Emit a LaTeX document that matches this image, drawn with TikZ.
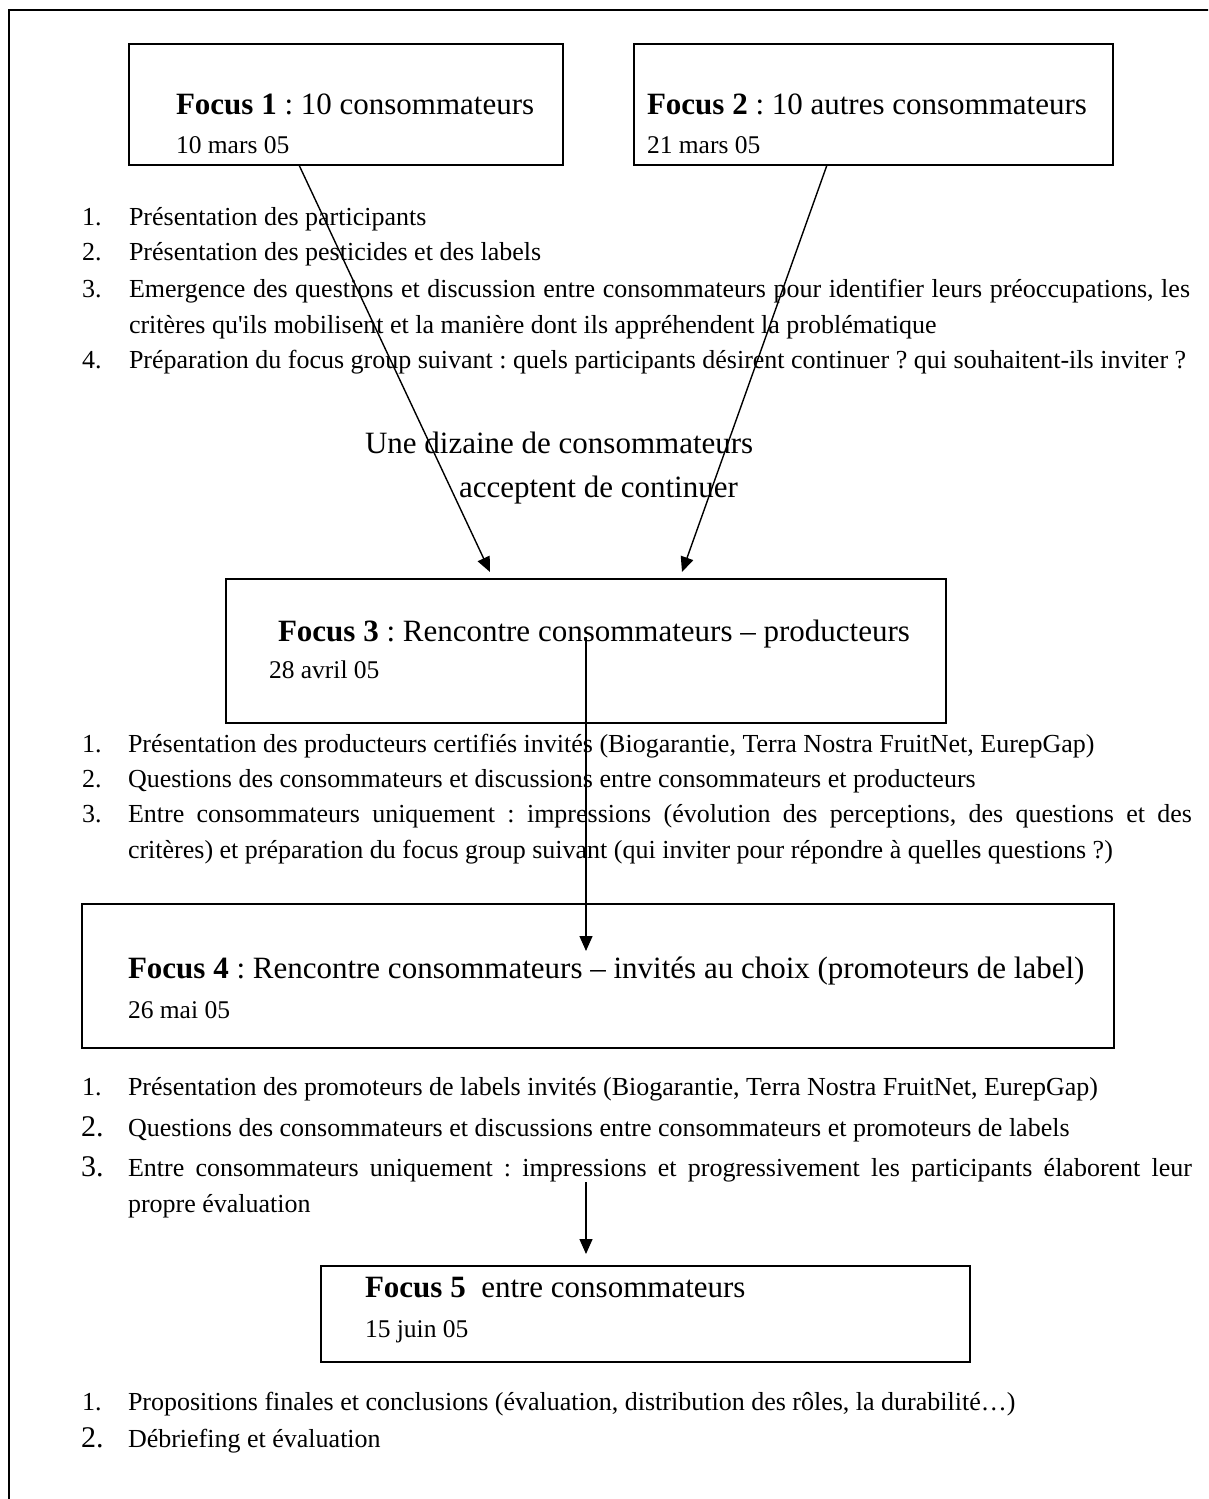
\documentclass[tikz,border=0pt]{standalone}
\usepackage{fontspec}
\setmainfont{Liberation Serif}
\usetikzlibrary{arrows.meta}
\frenchspacing
\begin{document}
\begin{tikzpicture}[x=1pt,y=-1pt,
  box/.style={draw, line width=1.6pt, inner sep=0pt, outer sep=0pt},
  ttl/.style={anchor=base west, inner sep=0pt, outer sep=0pt, font=\fontsize{31}{36}\selectfont\frenchspacing},
  dte/.style={anchor=base west, inner sep=0pt, outer sep=0pt, font=\fontsize{25.5}{30}\selectfont\frenchspacing},
  txt/.style={anchor=base west, inner sep=0pt, outer sep=0pt, font=\fontsize{26}{30}\selectfont\frenchspacing},
  bignum/.style={anchor=base west, inner sep=0pt, outer sep=0pt, font=\fontsize{30}{34}\selectfont},
  conn/.style={line width=1.4pt, -{Triangle[length=15pt,width=13pt]}}]
\useasboundingbox (0,0) rectangle (1208,1499);
\clip (0,0) rectangle (1208,1499);
\draw[line width=2pt] (9,10) rectangle (1240,1530);

% boxes
\node[box, minimum width=434pt, minimum height=121pt] (f1) at (346,104.5) {};
\node[box, minimum width=479pt, minimum height=121pt] (f2) at (873.5,104.5) {};
\node[box, minimum width=720pt, minimum height=144pt] (f3) at (586,651) {};
\node[box, minimum width=1032pt, minimum height=144pt] (f4) at (598,976) {};
\node[box, minimum width=649pt, minimum height=96pt] (f5) at (645.5,1314) {};

% box texts
\node[ttl] (f1t) at (176,114) {\textbf{Focus 1} : 10 consommateurs};
\node[dte] (f1d) at (176,153) {10 mars 05};
\node[ttl] (f2t) at (647,114) {\textbf{Focus 2} : 10 autres consommateurs};
\node[dte] (f2d) at (647,153) {21 mars 05};
\node[ttl] (f3t) at (278,641) {\textbf{Focus 3} : Rencontre consommateurs – producteurs};
\node[dte] (f3d) at (269,678) {28 avril 05};
\node[ttl] (f4t) at (128,978) {\textbf{Focus 4} : Rencontre consommateurs – invités au choix (promoteurs de label)};
\node[dte] (f4d) at (128,1018) {26 mai 05};
\node[ttl] (f5t) at (365,1297) {\textbf{Focus 5}\ \ entre consommateurs};
\node[dte] (f5d) at (365,1337) {15 juin 05};

% list after focus 1/2
\node[txt] (a1n) at (82,225) {1.};
\node[txt] (a1) at (129,225) {Présentation des participants};
\node[txt] (a2n) at (82,260) {2.};
\node[txt] (a2) at (129,260) {Présentation des pesticides et des labels};
\node[txt] (a3n) at (82,297) {3.};
\node[txt] (a3) at (129,297) {\makebox[1061pt][s]{Emergence des questions et discussion entre consommateurs pour identifier leurs préoccupations, les}};
\node[txt] (a3b) at (129,333) {critères qu\textquotesingle ils mobilisent et la manière dont ils appréhendent la problématique};
\node[txt] (a4n) at (82,368) {4.};
\node[txt] (a4) at (129,368) {Préparation du focus group suivant : quels participants désirent continuer ? qui souhaitent-ils inviter ?};

\node[ttl] (u1) at (365,453) {Une dizaine de consommateurs};
\node[ttl] (u2) at (459,497) {acceptent de continuer};

% list after focus 3
\node[txt] (b1n) at (82,752) {1.};
\node[txt] (b1) at (128,752) {Présentation des producteurs certifiés invités (Biogarantie, Terra Nostra FruitNet, EurepGap)};
\node[txt] (b2n) at (82,787) {2.};
\node[txt] (b2) at (128,787) {Questions des consommateurs et discussions entre consommateurs et producteurs};
\node[txt] (b3n) at (82,822) {3.};
\node[txt] (b3) at (128,822) {\makebox[1064pt][s]{Entre consommateurs uniquement : impressions (évolution des perceptions, des questions et des}};
\node[txt] (b3b) at (128,858) {critères) et préparation du focus group suivant (qui inviter pour répondre à quelles questions ?)};

% list after focus 4
\node[txt] (c1n) at (82,1095) {1.};
\node[txt] (c1) at (128,1095) {Présentation des promoteurs de labels invités (Biogarantie, Terra Nostra FruitNet, EurepGap)};
\node[bignum] (c2n) at (81,1136) {2.};
\node[txt] (c2) at (128,1136) {Questions des consommateurs et discussions entre consommateurs et promoteurs de labels};
\node[bignum] (c3n) at (81,1176) {3.};
\node[txt] (c3) at (128,1176) {\makebox[1064pt][s]{Entre consommateurs uniquement : impressions et progressivement les participants élaborent leur}};
\node[txt] (c3b) at (128,1212) {propre évaluation};

% list after focus 5
\node[txt] (d1n) at (82,1410) {1.};
\node[txt] (d1) at (128,1410) {Propositions finales et conclusions (évaluation, distribution des rôles, la durabilité…)};
\node[bignum] (d2n) at (81,1447) {2.};
\node[txt] (d2) at (128,1447) {Débriefing et évaluation};

% connectors
\coordinate (c4start) at (586,1182);
\draw[conn] ([xshift=-47pt]f1.south) -- ([xshift=-96pt,yshift=7pt]f3.north);
\draw[conn] ([xshift=-46.5pt]f2.south) -- ([xshift=96pt,yshift=7pt]f3.north);
\draw[conn] ([yshift=14pt]f3.center) -- ([xshift=-12pt,yshift=25pt]f4.center);
\draw[conn] (c4start) -- ([xshift=-59.5pt,yshift=12pt]f5.north);
\end{tikzpicture}
\end{document}
